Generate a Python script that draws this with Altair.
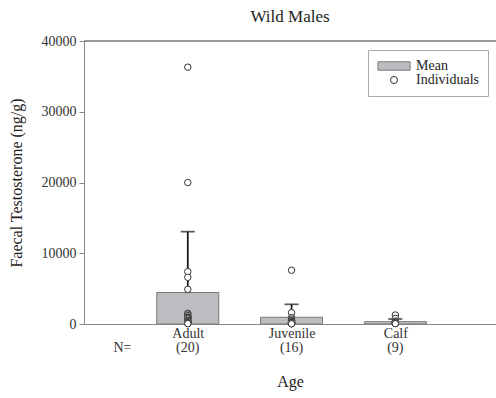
import altair as alt
import pandas as pd

# ---- data ----
categories = ["Adult", "Juvenile", "Calf"]
positions = [1, 2, 3]
means = [4450, 950, 330]
upper = [13050, 2780, 700]

n_labels = ["N=", "(20)", "(16)", "(9)"]
n_positions = [0.37, 1, 2, 3]

adult_vals = [36300, 20000, 7400, 6600, 4900, 1500, 1400, 1200, 1000, 950,
              900, 800, 700, 500, 400, 330, 200, 150, 100, 50]
juvenile_vals = [7600, 1600, 900, 700, 500, 420, 300, 250, 200, 150,
                 120, 100, 80, 60, 50, 30]
calf_vals = [1270, 800, 420, 300, 200, 150, 100, 80, 50]

legend_labels = ["Mean", "Individuals"]

FONT = "Liberation Serif"
BAR_FILL = "#bdbdc1"
BAR_STROKE = "#7a7a7a"

summary = pd.DataFrame({"cat": categories, "pos": positions,
                        "mean": means, "upper": upper})
pts = pd.DataFrame({
    "pos": [1] * len(adult_vals) + [2] * len(juvenile_vals) + [3] * len(calf_vals),
    "value": adult_vals + juvenile_vals + calf_vals,
})
nrow = pd.DataFrame({"pos": n_positions, "label": n_labels})
leg = pd.DataFrame({"label": legend_labels, "pos": [1, 1], "value": [None, None]})

label_map = " : ".join(
    f"datum.value == {p} ? '{c}'" for p, c in zip(positions, categories)
) + " : ''"

xscale = alt.Scale(domain=[0, 3.97], nice=False, zero=False, padding=0)
yscale = alt.Scale(domain=[0, 40000], nice=False, padding=0)

x_enc = alt.X("pos:Q", scale=xscale,
              axis=alt.Axis(values=positions, labelExpr=label_map, ticks=False,
                            labelPadding=2, title="Age", titlePadding=33,
                            labelFontSize=14))
y_enc = alt.Y("mean:Q", scale=yscale,
              axis=alt.Axis(values=[0, 10000, 20000, 30000, 40000], format="d",
                            tickSize=5, labelPadding=3,
                            title="Faecal Testosterone (ng/g)", titlePadding=17))

bars = alt.Chart(summary).mark_bar(size=62, fill=BAR_FILL, stroke=BAR_STROKE,
                                   strokeWidth=1).encode(x=x_enc, y=y_enc)

err = alt.Chart(summary).mark_rule(color="#111", strokeWidth=1.7).encode(
    x=alt.X("pos:Q", scale=xscale),
    y=alt.Y("mean:Q", scale=yscale),
    y2="upper:Q",
)
cap = alt.Chart(summary).mark_tick(orient="horizontal", size=14, thickness=1.7,
                                   color="#111").encode(
    x=alt.X("pos:Q", scale=xscale),
    y=alt.Y("upper:Q", scale=yscale),
)

points = alt.Chart(pts).mark_point(shape="circle", filled=True, fill="white",
                                   stroke="#333", strokeWidth=1, size=42,
                                   opacity=1).encode(
    x=alt.X("pos:Q", scale=xscale),
    y=alt.Y("value:Q", scale=yscale),
)

frame_top = alt.Chart(summary).mark_rule(color="#888", strokeWidth=1).encode(
    x=alt.datum(0, scale=xscale),
    x2=alt.datum(3.97),
    y=alt.datum(40000, scale=yscale),
)

ntext = alt.Chart(nrow).mark_text(font=FONT, fontSize=14, color="#333",
                                  baseline="middle").encode(
    x=alt.X("pos:Q", scale=xscale),
    y=alt.value(307),
    text="label:N",
)

rect_path = "M-4.6,-1.2H4.6V1.2H-4.6Z"
legend_layer = alt.Chart(leg).mark_point(filled=True, opacity=1, size=49,
                                         strokeWidth=1).encode(
    x=alt.X("pos:Q", scale=xscale),
    y=alt.Y("value:Q", scale=yscale),
    shape=alt.Shape("label:N", scale=alt.Scale(domain=legend_labels,
                                               range=[rect_path, "circle"]),
                    legend=alt.Legend(title=None)),
    fill=alt.Fill("label:N", scale=alt.Scale(domain=legend_labels,
                                             range=[BAR_FILL, "white"]),
                  legend=alt.Legend(title=None)),
    stroke=alt.Stroke("label:N", scale=alt.Scale(domain=legend_labels,
                                                 range=[BAR_STROKE, "#333"]),
                      legend=alt.Legend(title=None)),
)

chart = alt.layer(frame_top, bars, err, cap, points, ntext, legend_layer).properties(
    width=412,
    height=283,
    autosize=alt.AutoSizeParams(type="none"),
    padding={"left": 84, "top": 41, "right": 0, "bottom": 74},
    title=alt.Title("Wild Males", frame="group", offset=8),
).configure_view(stroke=None).configure_axis(
    labelFont=FONT, titleFont=FONT, labelFontSize=14, titleFontSize=16,
    labelColor="#333", titleColor="#222", titleFontWeight="normal",
    domainColor="#888", tickColor="#888", grid=False,
).configure_title(
    font=FONT, fontSize=17, fontWeight="normal", color="#222", anchor="middle",
).configure_legend(
    orient="none", legendX=284, legendY=9, padding=9,
    strokeColor="#aaa", fillColor="white",
    labelFont=FONT, labelFontSize=14, labelColor="#222",
    symbolSize=49, symbolStrokeWidth=1, symbolOffset=10, labelOffset=15,
    rowPadding=0,
)

chart.save("out.html", embed_options={"renderer": "svg", "actions": False})
